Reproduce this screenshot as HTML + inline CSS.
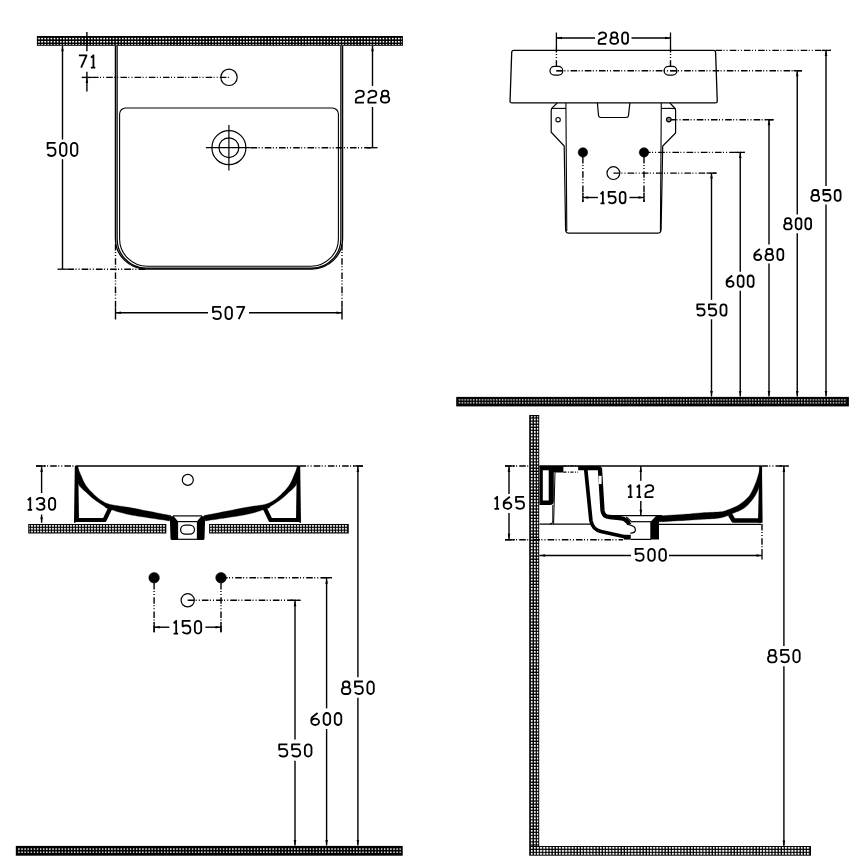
<!DOCTYPE html>
<html><head><meta charset="utf-8"><title>Washbasin dimension drawing</title><style>
html,body{margin:0;padding:0;background:#fff;font-family:"Liberation Sans",sans-serif;overflow:hidden;}
svg{display:block;}
</style></head><body>
<svg width="868" height="868" viewBox="0 0 868 868" role="img" aria-label="Washbasin technical drawing: 507 x 500, heights 850, 800, 680, 600, 550">
<defs>
<pattern id="hp1" patternUnits="userSpaceOnUse" x="38.175" y="37.775" width="3.103" height="3.15"><rect width="1.65" height="1.65" fill="#fff"/></pattern><pattern id="hp2" patternUnits="userSpaceOnUse" x="458.725" y="399.225" width="2.877" height="3.0"><rect width="1.35" height="1.35" fill="#fff"/></pattern><pattern id="hp3" patternUnits="userSpaceOnUse" x="160.100" y="524.900" width="3.0" height="2.9"><rect width="1.8" height="1.8" fill="#fff"/></pattern><pattern id="hp4" patternUnits="userSpaceOnUse" x="210.100" y="524.900" width="3.0" height="2.9"><rect width="1.8" height="1.8" fill="#fff"/></pattern><pattern id="hp5" patternUnits="userSpaceOnUse" x="18.200" y="848.400" width="3.1" height="3.15"><rect width="1.4" height="1.4" fill="#fff"/></pattern><pattern id="hp6" patternUnits="userSpaceOnUse" x="530.750" y="418.550" width="3.14" height="3.14"><rect width="1.9" height="1.9" fill="#fff"/></pattern><pattern id="hp7" patternUnits="userSpaceOnUse" x="530.750" y="846.950" width="3.14" height="3.1"><rect width="1.9" height="1.9" fill="#fff"/></pattern>
</defs>
<rect width="868" height="868" fill="#fff"/>
<rect x="36.9" y="36" width="366.00" height="9.80" fill="#000"/>
<rect x="38.10" y="37.20" width="363.80" height="7.60" fill="url(#hp1)"/>
<path d="M115.4,46 V238.7 A30.7,30.3 0 0 0 146.1,269.0 H311.9 A30.7,30.3 0 0 0 342.6,238.7 V46" fill="none" stroke="#000" stroke-width="1.3" />
<path d="M117.1,46 V238.7 A29,29.5 0 0 0 146.1,268.2 H311.9 A29,29.5 0 0 0 340.9,238.7 V46" fill="none" stroke="#000" stroke-width="1.3" />
<path d="M119.6,238.7 V114 A6,6 0 0 1 125.6,108 H332.4 A6,6 0 0 1 338.4,114 V238.7 A27.7,27.6 0 0 1 310.7,266.3 H147.3 A27.7,27.6 0 0 1 119.6,238.7" fill="none" stroke="#000" stroke-width="1.1" />
<circle cx="229" cy="77.3" r="8.2" fill="none" stroke="#000" stroke-width="1.2"/>
<line x1="92" y1="77.4" x2="229" y2="77.4" stroke="#000" stroke-width="1.4" stroke-linecap="butt" stroke-dasharray="6.6 1.4 1 2.1 1 2.1"/>
<circle cx="228.9" cy="147.7" r="17" fill="none" stroke="#000" stroke-width="1.2"/>
<circle cx="228.9" cy="147.7" r="9.9" fill="none" stroke="#000" stroke-width="1.2"/>
<line x1="228.9" y1="125.1" x2="228.9" y2="170.5" stroke="#000" stroke-width="1.2" stroke-linecap="butt"/>
<line x1="205.9" y1="147.7" x2="250.6" y2="147.7" stroke="#000" stroke-width="1.2" stroke-linecap="butt"/>
<line x1="250.6" y1="147.7" x2="372.5" y2="147.7" stroke="#000" stroke-width="1.4" stroke-linecap="butt" stroke-dasharray="6.6 1.4 1 2.1 1 2.1"/>
<line x1="367" y1="147.7" x2="377.5" y2="147.7" stroke="#000" stroke-width="1.3" stroke-linecap="butt"/>
<line x1="86.9" y1="31.9" x2="86.9" y2="51.2" stroke="#000" stroke-width="1.4" stroke-linecap="butt"/>
<line x1="86.9" y1="71.8" x2="86.9" y2="91.5" stroke="#000" stroke-width="1.4" stroke-linecap="butt"/>
<line x1="81.7" y1="77.4" x2="91.8" y2="77.4" stroke="#000" stroke-width="1.4" stroke-linecap="butt"/>
<polygon points="86.90,77.40 85.60,82.90 88.20,82.90" fill="#000"/>
<polygon points="86.90,45.60 85.60,40.10 88.20,40.10" fill="#000"/>
<g transform="translate(78.90,55.30) scale(0.9647,1.0082)" fill="none" stroke="#000" stroke-width="1.8" stroke-linejoin="round" stroke-linecap="butt"><path transform="translate(0.000,0)" d="M0,0 H7.9 L2.3,12.2" vector-effect="non-scaling-stroke"/><path transform="translate(12.400,0)" d="M0.1,2.4 L2.65,0 V12.2 M0,12.2 H4.6" vector-effect="non-scaling-stroke"/></g>
<line x1="62.5" y1="46" x2="62.5" y2="139.6" stroke="#000" stroke-width="1.4" stroke-linecap="butt"/>
<line x1="62.5" y1="159.2" x2="62.5" y2="269.2" stroke="#000" stroke-width="1.4" stroke-linecap="butt"/>
<polygon points="62.50,45.80 61.20,51.30 63.80,51.30" fill="#000"/>
<line x1="57.5" y1="269.2" x2="67.5" y2="269.2" stroke="#000" stroke-width="1.3" stroke-linecap="butt"/>
<line x1="67.5" y1="269.2" x2="146" y2="269.2" stroke="#000" stroke-width="1.4" stroke-linecap="butt" stroke-dasharray="6.6 1.4 1 2.1 1 2.1"/>
<g transform="translate(47.50,142.80) scale(0.9934,1.0820)" fill="none" stroke="#000" stroke-width="1.8" stroke-linejoin="round" stroke-linecap="butt"><path transform="translate(0.000,0)" d="M8.1,0 H0.1 V5.3 C1.2,4.7 2.6,4.5 4,4.5 C6.6,4.5 8.1,6 8.1,8.3 C8.1,10.7 6.5,12.2 4,12.2 C2.2,12.2 0.9,11.6 0,10.5" vector-effect="non-scaling-stroke"/><path transform="translate(12.600,0)" d="M0,3.5 A3.25,3.5 0 0 1 6.5,3.5 V8.7 A3.25,3.5 0 0 1 0,8.7 Z" vector-effect="non-scaling-stroke"/><path transform="translate(23.600,0)" d="M0,3.5 A3.25,3.5 0 0 1 6.5,3.5 V8.7 A3.25,3.5 0 0 1 0,8.7 Z" vector-effect="non-scaling-stroke"/></g>
<line x1="372.5" y1="46" x2="372.5" y2="86" stroke="#000" stroke-width="1.4" stroke-linecap="butt"/>
<line x1="372.5" y1="107" x2="372.5" y2="147.7" stroke="#000" stroke-width="1.4" stroke-linecap="butt"/>
<polygon points="372.50,45.80 371.20,51.30 373.80,51.30" fill="#000"/>
<g transform="translate(355.80,90.70) scale(0.9710,0.9754)" fill="none" stroke="#000" stroke-width="1.8" stroke-linejoin="round" stroke-linecap="butt"><path transform="translate(0.000,0)" d="M0,2.5 C0.6,0.9 2.2,0 4.2,0 C6.6,0 8.3,1.4 8.3,3.4 C8.3,5.5 6.7,6.2 4.2,6.6 C1.6,7 0,7.8 0,9.8 V12.2 H8.4" vector-effect="non-scaling-stroke"/><path transform="translate(12.900,0)" d="M0,2.5 C0.6,0.9 2.2,0 4.2,0 C6.6,0 8.3,1.4 8.3,3.4 C8.3,5.5 6.7,6.2 4.2,6.6 C1.6,7 0,7.8 0,9.8 V12.2 H8.4" vector-effect="non-scaling-stroke"/><path transform="translate(25.800,0)" d="M3.6,0 H5.1 A2.6,2.7 0 0 1 7.7,2.7 V3.0 A2.6,2.7 0 0 1 5.1,5.7 H3.6 A2.6,2.7 0 0 1 1.0,3.0 V2.7 A2.6,2.7 0 0 1 3.6,0 Z M3.1,5.7 H5.6 A3.1,3.1 0 0 1 8.7,8.8 V9.1 A3.1,3.1 0 0 1 5.6,12.2 H3.1 A3.1,3.1 0 0 1 0,9.1 V8.8 A3.1,3.1 0 0 1 3.1,5.7 Z" vector-effect="non-scaling-stroke"/></g>
<line x1="115.5" y1="244" x2="115.5" y2="308" stroke="#000" stroke-width="1.4" stroke-linecap="butt" stroke-dasharray="6.6 1.4 1 2.1 1 2.1"/>
<line x1="342" y1="244" x2="342" y2="308" stroke="#000" stroke-width="1.4" stroke-linecap="butt" stroke-dasharray="6.6 1.4 1 2.1 1 2.1"/>
<line x1="115.5" y1="307.5" x2="115.5" y2="319.5" stroke="#000" stroke-width="1.4" stroke-linecap="butt"/>
<line x1="342" y1="307.5" x2="342" y2="319.5" stroke="#000" stroke-width="1.4" stroke-linecap="butt"/>
<line x1="115.5" y1="312.75" x2="208" y2="312.75" stroke="#000" stroke-width="1.4" stroke-linecap="butt"/>
<line x1="249" y1="312.75" x2="342" y2="312.75" stroke="#000" stroke-width="1.4" stroke-linecap="butt"/>
<polygon points="115.50,312.75 121.00,311.45 121.00,314.05" fill="#000"/>
<polygon points="342.00,312.75 336.50,311.45 336.50,314.05" fill="#000"/>
<g transform="translate(212.90,306.90) scale(0.9968,1.0000)" fill="none" stroke="#000" stroke-width="1.8" stroke-linejoin="round" stroke-linecap="butt"><path transform="translate(0.000,0)" d="M8.1,0 H0.1 V5.3 C1.2,4.7 2.6,4.5 4,4.5 C6.6,4.5 8.1,6 8.1,8.3 C8.1,10.7 6.5,12.2 4,12.2 C2.2,12.2 0.9,11.6 0,10.5" vector-effect="non-scaling-stroke"/><path transform="translate(12.600,0)" d="M0,3.5 A3.25,3.5 0 0 1 6.5,3.5 V8.7 A3.25,3.5 0 0 1 0,8.7 Z" vector-effect="non-scaling-stroke"/><path transform="translate(23.600,0)" d="M0,0 H7.9 L2.3,12.2" vector-effect="non-scaling-stroke"/></g>
<path d="M513.75,50.4 H713.5 Q715.5,50.4 715.6,52.4 L717.25,100.9 Q717.3,102.9 715.3,102.9 H512 Q510,102.9 510.05,100.9 L511.7,52.4 Q511.8,50.4 513.75,50.4 Z" fill="none" stroke="#000" stroke-width="1.3" />
<rect x="550.0" y="66.3" width="12.8" height="8.8" rx="4.4" fill="none" stroke="#000" stroke-width="1.25"/>
<line x1="556.4" y1="70.7" x2="562.8" y2="70.7" stroke="#000" stroke-width="1.2" stroke-linecap="butt"/>
<line x1="556.4" y1="46" x2="556.4" y2="66.2" stroke="#000" stroke-width="1.4" stroke-linecap="butt" stroke-dasharray="6.6 1.4 1 2.1 1 2.1"/>
<line x1="556.4" y1="32.5" x2="556.4" y2="46" stroke="#000" stroke-width="1.3" stroke-linecap="butt"/>
<rect x="664.1" y="66.3" width="12.8" height="8.8" rx="4.4" fill="none" stroke="#000" stroke-width="1.25"/>
<line x1="670.5" y1="70.7" x2="676.9" y2="70.7" stroke="#000" stroke-width="1.2" stroke-linecap="butt"/>
<line x1="670.5" y1="46" x2="670.5" y2="66.2" stroke="#000" stroke-width="1.4" stroke-linecap="butt" stroke-dasharray="6.6 1.4 1 2.1 1 2.1"/>
<line x1="670.5" y1="32.5" x2="670.5" y2="46" stroke="#000" stroke-width="1.3" stroke-linecap="butt"/>
<line x1="556.4" y1="38" x2="595" y2="38" stroke="#000" stroke-width="1.4" stroke-linecap="butt"/>
<line x1="631.5" y1="38" x2="670.5" y2="38" stroke="#000" stroke-width="1.4" stroke-linecap="butt"/>
<polygon points="556.40,38.00 561.90,36.70 561.90,39.30" fill="#000"/>
<polygon points="670.50,38.00 665.00,36.70 665.00,39.30" fill="#000"/>
<g transform="translate(598.70,32.30) scale(0.8988,0.9426)" fill="none" stroke="#000" stroke-width="1.8" stroke-linejoin="round" stroke-linecap="butt"><path transform="translate(0.000,0)" d="M0,2.5 C0.6,0.9 2.2,0 4.2,0 C6.6,0 8.3,1.4 8.3,3.4 C8.3,5.5 6.7,6.2 4.2,6.6 C1.6,7 0,7.8 0,9.8 V12.2 H8.4" vector-effect="non-scaling-stroke"/><path transform="translate(12.900,0)" d="M3.6,0 H5.1 A2.6,2.7 0 0 1 7.7,2.7 V3.0 A2.6,2.7 0 0 1 5.1,5.7 H3.6 A2.6,2.7 0 0 1 1.0,3.0 V2.7 A2.6,2.7 0 0 1 3.6,0 Z M3.1,5.7 H5.6 A3.1,3.1 0 0 1 8.7,8.8 V9.1 A3.1,3.1 0 0 1 5.6,12.2 H3.1 A3.1,3.1 0 0 1 0,9.1 V8.8 A3.1,3.1 0 0 1 3.1,5.7 Z" vector-effect="non-scaling-stroke"/><path transform="translate(26.100,0)" d="M0,3.5 A3.25,3.5 0 0 1 6.5,3.5 V8.7 A3.25,3.5 0 0 1 0,8.7 Z" vector-effect="non-scaling-stroke"/></g>
<line x1="556.4" y1="70.7" x2="802" y2="70.7" stroke="#000" stroke-width="1.4" stroke-linecap="butt" stroke-dasharray="6.6 1.4 1 2.1 1 2.1"/>
<line x1="715.5" y1="50.4" x2="831" y2="50.4" stroke="#000" stroke-width="1.4" stroke-linecap="butt" stroke-dasharray="6.6 1.4 1 2.1 1 2.1"/>
<line x1="822" y1="50.4" x2="831" y2="50.4" stroke="#000" stroke-width="1.3" stroke-linecap="butt"/>
<line x1="793.5" y1="70.7" x2="802" y2="70.7" stroke="#000" stroke-width="1.3" stroke-linecap="butt"/>
<line x1="668.4" y1="119.7" x2="773.5" y2="119.7" stroke="#000" stroke-width="1.4" stroke-linecap="butt" stroke-dasharray="6.6 1.4 1 2.1 1 2.1"/>
<line x1="764.75" y1="119.7" x2="773.5" y2="119.7" stroke="#000" stroke-width="1.3" stroke-linecap="butt"/>
<line x1="644" y1="152.4" x2="744.75" y2="152.4" stroke="#000" stroke-width="1.4" stroke-linecap="butt" stroke-dasharray="6.6 1.4 1 2.1 1 2.1"/>
<line x1="735.5" y1="152.4" x2="744.75" y2="152.4" stroke="#000" stroke-width="1.3" stroke-linecap="butt"/>
<line x1="613.4" y1="173.1" x2="716.5" y2="173.1" stroke="#000" stroke-width="1.4" stroke-linecap="butt" stroke-dasharray="6.6 1.4 1 2.1 1 2.1"/>
<line x1="707.25" y1="173.1" x2="716.5" y2="173.1" stroke="#000" stroke-width="1.3" stroke-linecap="butt"/>
<line x1="826" y1="50.4" x2="826" y2="186" stroke="#000" stroke-width="1.4" stroke-linecap="butt"/>
<line x1="826" y1="204.6" x2="826" y2="396.5" stroke="#000" stroke-width="1.4" stroke-linecap="butt"/>
<polygon points="826.00,396.50 824.70,391.00 827.30,391.00" fill="#000"/>
<polygon points="826.00,50.40 824.70,55.90 827.30,55.90" fill="#000"/>
<g transform="translate(811.30,190.00) scale(0.9071,0.8934)" fill="none" stroke="#000" stroke-width="1.8" stroke-linejoin="round" stroke-linecap="butt"><path transform="translate(0.000,0)" d="M3.6,0 H5.1 A2.6,2.7 0 0 1 7.7,2.7 V3.0 A2.6,2.7 0 0 1 5.1,5.7 H3.6 A2.6,2.7 0 0 1 1.0,3.0 V2.7 A2.6,2.7 0 0 1 3.6,0 Z M3.1,5.7 H5.6 A3.1,3.1 0 0 1 8.7,8.8 V9.1 A3.1,3.1 0 0 1 5.6,12.2 H3.1 A3.1,3.1 0 0 1 0,9.1 V8.8 A3.1,3.1 0 0 1 3.1,5.7 Z" vector-effect="non-scaling-stroke"/><path transform="translate(13.200,0)" d="M8.1,0 H0.1 V5.3 C1.2,4.7 2.6,4.5 4,4.5 C6.6,4.5 8.1,6 8.1,8.3 C8.1,10.7 6.5,12.2 4,12.2 C2.2,12.2 0.9,11.6 0,10.5" vector-effect="non-scaling-stroke"/><path transform="translate(25.800,0)" d="M0,3.5 A3.25,3.5 0 0 1 6.5,3.5 V8.7 A3.25,3.5 0 0 1 0,8.7 Z" vector-effect="non-scaling-stroke"/></g>
<line x1="797.25" y1="70.7" x2="797.25" y2="214.6" stroke="#000" stroke-width="1.4" stroke-linecap="butt"/>
<line x1="797.25" y1="233.2" x2="797.25" y2="396.5" stroke="#000" stroke-width="1.4" stroke-linecap="butt"/>
<polygon points="797.25,396.50 795.95,391.00 798.55,391.00" fill="#000"/>
<polygon points="797.25,70.70 795.95,76.20 798.55,76.20" fill="#000"/>
<g transform="translate(784.10,218.20) scale(0.8795,0.9180)" fill="none" stroke="#000" stroke-width="1.8" stroke-linejoin="round" stroke-linecap="butt"><path transform="translate(0.000,0)" d="M3.6,0 H5.1 A2.6,2.7 0 0 1 7.7,2.7 V3.0 A2.6,2.7 0 0 1 5.1,5.7 H3.6 A2.6,2.7 0 0 1 1.0,3.0 V2.7 A2.6,2.7 0 0 1 3.6,0 Z M3.1,5.7 H5.6 A3.1,3.1 0 0 1 8.7,8.8 V9.1 A3.1,3.1 0 0 1 5.6,12.2 H3.1 A3.1,3.1 0 0 1 0,9.1 V8.8 A3.1,3.1 0 0 1 3.1,5.7 Z" vector-effect="non-scaling-stroke"/><path transform="translate(13.200,0)" d="M0,3.5 A3.25,3.5 0 0 1 6.5,3.5 V8.7 A3.25,3.5 0 0 1 0,8.7 Z" vector-effect="non-scaling-stroke"/><path transform="translate(24.200,0)" d="M0,3.5 A3.25,3.5 0 0 1 6.5,3.5 V8.7 A3.25,3.5 0 0 1 0,8.7 Z" vector-effect="non-scaling-stroke"/></g>
<line x1="769" y1="119.7" x2="769" y2="244.6" stroke="#000" stroke-width="1.4" stroke-linecap="butt"/>
<line x1="769" y1="263.6" x2="769" y2="396.5" stroke="#000" stroke-width="1.4" stroke-linecap="butt"/>
<polygon points="769.00,396.50 767.70,391.00 770.30,391.00" fill="#000"/>
<polygon points="769.00,119.70 767.70,125.20 770.30,125.20" fill="#000"/>
<g transform="translate(754.30,249.00) scale(0.9091,0.9098)" fill="none" stroke="#000" stroke-width="1.8" stroke-linejoin="round" stroke-linecap="butt"><path transform="translate(0.000,0)" d="M6.2,0 L0.9,4.3 Q0,5.1 0,6.5 V9 A3.85,3.2 0 0 0 7.7,9 A3.85,3.2 0 0 0 0,9" vector-effect="non-scaling-stroke"/><path transform="translate(12.200,0)" d="M3.6,0 H5.1 A2.6,2.7 0 0 1 7.7,2.7 V3.0 A2.6,2.7 0 0 1 5.1,5.7 H3.6 A2.6,2.7 0 0 1 1.0,3.0 V2.7 A2.6,2.7 0 0 1 3.6,0 Z M3.1,5.7 H5.6 A3.1,3.1 0 0 1 8.7,8.8 V9.1 A3.1,3.1 0 0 1 5.6,12.2 H3.1 A3.1,3.1 0 0 1 0,9.1 V8.8 A3.1,3.1 0 0 1 3.1,5.7 Z" vector-effect="non-scaling-stroke"/><path transform="translate(25.400,0)" d="M0,3.5 A3.25,3.5 0 0 1 6.5,3.5 V8.7 A3.25,3.5 0 0 1 0,8.7 Z" vector-effect="non-scaling-stroke"/></g>
<line x1="740.25" y1="152.4" x2="740.25" y2="271.7" stroke="#000" stroke-width="1.4" stroke-linecap="butt"/>
<line x1="740.25" y1="290.7" x2="740.25" y2="396.5" stroke="#000" stroke-width="1.4" stroke-linecap="butt"/>
<polygon points="740.25,396.50 738.95,391.00 741.55,391.00" fill="#000"/>
<polygon points="740.25,152.40 738.95,157.90 741.55,157.90" fill="#000"/>
<g transform="translate(726.60,275.50) scale(0.9091,0.9344)" fill="none" stroke="#000" stroke-width="1.8" stroke-linejoin="round" stroke-linecap="butt"><path transform="translate(0.000,0)" d="M6.2,0 L0.9,4.3 Q0,5.1 0,6.5 V9 A3.85,3.2 0 0 0 7.7,9 A3.85,3.2 0 0 0 0,9" vector-effect="non-scaling-stroke"/><path transform="translate(12.200,0)" d="M0,3.5 A3.25,3.5 0 0 1 6.5,3.5 V8.7 A3.25,3.5 0 0 1 0,8.7 Z" vector-effect="non-scaling-stroke"/><path transform="translate(23.200,0)" d="M0,3.5 A3.25,3.5 0 0 1 6.5,3.5 V8.7 A3.25,3.5 0 0 1 0,8.7 Z" vector-effect="non-scaling-stroke"/></g>
<line x1="711.5" y1="173.1" x2="711.5" y2="299.9" stroke="#000" stroke-width="1.4" stroke-linecap="butt"/>
<line x1="711.5" y1="319.3" x2="711.5" y2="396.5" stroke="#000" stroke-width="1.4" stroke-linecap="butt"/>
<polygon points="711.50,396.50 710.20,391.00 712.80,391.00" fill="#000"/>
<polygon points="711.50,173.10 710.20,178.60 712.80,178.60" fill="#000"/>
<g transform="translate(697.20,304.30) scale(0.9243,0.9344)" fill="none" stroke="#000" stroke-width="1.8" stroke-linejoin="round" stroke-linecap="butt"><path transform="translate(0.000,0)" d="M8.1,0 H0.1 V5.3 C1.2,4.7 2.6,4.5 4,4.5 C6.6,4.5 8.1,6 8.1,8.3 C8.1,10.7 6.5,12.2 4,12.2 C2.2,12.2 0.9,11.6 0,10.5" vector-effect="non-scaling-stroke"/><path transform="translate(12.600,0)" d="M8.1,0 H0.1 V5.3 C1.2,4.7 2.6,4.5 4,4.5 C6.6,4.5 8.1,6 8.1,8.3 C8.1,10.7 6.5,12.2 4,12.2 C2.2,12.2 0.9,11.6 0,10.5" vector-effect="non-scaling-stroke"/><path transform="translate(25.200,0)" d="M0,3.5 A3.25,3.5 0 0 1 6.5,3.5 V8.7 A3.25,3.5 0 0 1 0,8.7 Z" vector-effect="non-scaling-stroke"/></g>
<path d="M557.3,102.9 L552.6,107.5 Q551.2,108.8 551.2,110.5 L551.2,132.2 L564.2,146 L565.6,229.5 Q565.7,233.2 569,233.2 H657.6 Q661,233.2 661.1,229.5 L662.7,146 L675.6,133 L675.6,110.5 Q675.6,108.8 674.2,107.5 L669.8,102.9" fill="none" stroke="#000" stroke-width="1.2" />
<path d="M565.9,102.9 L566.8,231 M661.3,102.9 L660.4,231" fill="none" stroke="#000" stroke-width="1.1" />
<line x1="551.2" y1="108.4" x2="565.9" y2="108.4" stroke="#000" stroke-width="1.1" stroke-linecap="butt"/>
<line x1="661.3" y1="108.4" x2="675.6" y2="108.4" stroke="#000" stroke-width="1.1" stroke-linecap="butt"/>
<circle cx="558.1" cy="119.7" r="2.2" fill="none" stroke="#000" stroke-width="1.1"/>
<circle cx="668.8" cy="119.6" r="2.3" fill="#888" stroke="#000" stroke-width="1.1"/>
<path d="M597.4,102.9 L598.5,115.5 Q598.8,117.5 600.8,117.5 H626.3 Q628.3,117.5 628.5,115.5 L629.9,102.9" fill="none" stroke="#000" stroke-width="1.2" />
<circle cx="582.9" cy="152.4" r="4.75" fill="#000" stroke="#000" stroke-width="0.5"/>
<circle cx="644" cy="152.4" r="4.75" fill="#000" stroke="#000" stroke-width="0.5"/>
<circle cx="613.4" cy="173.1" r="6.4" fill="none" stroke="#000" stroke-width="1.2"/>
<line x1="582.9" y1="157" x2="582.9" y2="202.1" stroke="#000" stroke-width="1.4" stroke-linecap="butt" stroke-dasharray="6.6 1.4 1 2.1 1 2.1"/>
<line x1="644" y1="157" x2="644" y2="202.1" stroke="#000" stroke-width="1.4" stroke-linecap="butt" stroke-dasharray="6.6 1.4 1 2.1 1 2.1"/>
<line x1="582.9" y1="192.6" x2="582.9" y2="202.1" stroke="#000" stroke-width="1.3" stroke-linecap="butt"/>
<line x1="644" y1="192.6" x2="644" y2="202.1" stroke="#000" stroke-width="1.3" stroke-linecap="butt"/>
<line x1="582.9" y1="197.5" x2="597.9" y2="197.5" stroke="#000" stroke-width="1.4" stroke-linecap="butt"/>
<line x1="629.5" y1="197.5" x2="644" y2="197.5" stroke="#000" stroke-width="1.4" stroke-linecap="butt"/>
<polygon points="582.90,197.50 588.40,196.20 588.40,198.80" fill="#000"/>
<polygon points="644.00,197.50 638.50,196.20 638.50,198.80" fill="#000"/>
<g transform="translate(600.50,191.80) scale(0.8865,0.9426)" fill="none" stroke="#000" stroke-width="1.8" stroke-linejoin="round" stroke-linecap="butt"><path transform="translate(0.000,0)" d="M0.1,2.4 L2.65,0 V12.2 M0,12.2 H4.6" vector-effect="non-scaling-stroke"/><path transform="translate(9.100,0)" d="M8.1,0 H0.1 V5.3 C1.2,4.7 2.6,4.5 4,4.5 C6.6,4.5 8.1,6 8.1,8.3 C8.1,10.7 6.5,12.2 4,12.2 C2.2,12.2 0.9,11.6 0,10.5" vector-effect="non-scaling-stroke"/><path transform="translate(21.700,0)" d="M0,3.5 A3.25,3.5 0 0 1 6.5,3.5 V8.7 A3.25,3.5 0 0 1 0,8.7 Z" vector-effect="non-scaling-stroke"/></g>
<rect x="456.2" y="396.9" width="392.70" height="9.50" fill="#000"/>
<rect x="458.20" y="398.80" width="388.50" height="5.40" fill="url(#hp2)"/>
<line x1="76" y1="466" x2="299.5" y2="466" stroke="#000" stroke-width="1.3" stroke-linecap="butt"/>
<line x1="36" y1="466" x2="76" y2="466" stroke="#000" stroke-width="1.4" stroke-linecap="butt" stroke-dasharray="6.6 1.4 1 2.1 1 2.1"/>
<line x1="36" y1="466" x2="46" y2="466" stroke="#000" stroke-width="1.3" stroke-linecap="butt"/>
<line x1="299.5" y1="466" x2="363" y2="466" stroke="#000" stroke-width="1.4" stroke-linecap="butt" stroke-dasharray="6.6 1.4 1 2.1 1 2.1"/>
<line x1="353" y1="466" x2="363" y2="466" stroke="#000" stroke-width="1.3" stroke-linecap="butt"/>
<line x1="41.6" y1="466" x2="41.6" y2="493" stroke="#000" stroke-width="1.4" stroke-linecap="butt"/>
<line x1="41.6" y1="514.5" x2="41.6" y2="522.75" stroke="#000" stroke-width="1.4" stroke-linecap="butt"/>
<polygon points="41.60,466.50 40.30,472.00 42.90,472.00" fill="#000"/>
<polygon points="41.60,522.75 40.30,517.25 42.90,517.25" fill="#000"/>
<g transform="translate(27.70,497.80) scale(0.9649,0.9836)" fill="none" stroke="#000" stroke-width="1.8" stroke-linejoin="round" stroke-linecap="butt"><path transform="translate(0.000,0)" d="M0.1,2.4 L2.65,0 V12.2 M0,12.2 H4.6" vector-effect="non-scaling-stroke"/><path transform="translate(9.100,0)" d="M0,2.3 C0.6,0.8 2.2,0 4.1,0 C6.5,0 8.1,1.3 8.1,3.1 C8.1,5 6.5,6.1 3.4,6.1 C6.7,6.1 8.4,7.4 8.4,9.1 C8.4,11 6.6,12.2 4.1,12.2 C2.1,12.2 0.6,11.4 0,10.1" vector-effect="non-scaling-stroke"/><path transform="translate(22.000,0)" d="M0,3.5 A3.25,3.5 0 0 1 6.5,3.5 V8.7 A3.25,3.5 0 0 1 0,8.7 Z" vector-effect="non-scaling-stroke"/></g>
<rect x="28.25" y="524" width="138.05" height="9.50" fill="#000"/>
<rect x="29.25" y="525.00" width="136.05" height="7.60" fill="url(#hp3)"/>
<rect x="209.1" y="524" width="139.65" height="9.50" fill="#000"/>
<rect x="210.10" y="525.00" width="137.65" height="7.60" fill="url(#hp4)"/>
<polygon points="74.80,466 78.20,466 79.00,521 74.00,523" fill="#000"/>
<path d="M75,520 H104.5 L110.3,508" fill="none" stroke="#000" stroke-width="4.2" stroke-linejoin="round"/>
<path d="M77.30,466.00 C77.97,467.68 79.83,472.80 81.30,476.10 C82.77,479.40 83.95,482.70 86.10,485.80 C88.25,488.90 91.50,492.15 94.20,494.70 C96.90,497.25 99.62,499.48 102.30,501.10 C104.98,502.72 105.68,503.32 110.30,504.40 C114.92,505.48 119.88,505.73 130.00,507.60 C140.12,509.47 164.17,514.27 171.00,515.60 L169.50,520.90 C162.92,519.88 140.25,516.85 130.00,514.80 C119.75,512.75 112.35,510.07 108.00,508.60 C103.65,507.13 106.20,507.52 103.90,506.00 C101.60,504.48 97.17,501.78 94.20,499.50 C91.23,497.22 88.78,494.98 86.10,492.30 C83.42,489.62 79.52,487.12 78.10,483.40 C76.68,479.68 77.68,472.23 77.60,470.00 Z" fill="#000" stroke="#000" stroke-width="0.3"/>
<polygon points="169.80,516.5 173.50,515.9 178.10,521.6 178.10,539.9 171.50,539.9 170.50,538.9" fill="#000"/>
<polygon points="300.20,466 296.80,466 296.00,521 301.00,523" fill="#000"/>
<path d="M300.0,520 H270.5 L264.7,508" fill="none" stroke="#000" stroke-width="4.2" stroke-linejoin="round"/>
<path d="M297.70,466.00 C297.03,467.68 295.17,472.80 293.70,476.10 C292.23,479.40 291.05,482.70 288.90,485.80 C286.75,488.90 283.50,492.15 280.80,494.70 C278.10,497.25 275.38,499.48 272.70,501.10 C270.02,502.72 269.32,503.32 264.70,504.40 C260.08,505.48 255.12,505.73 245.00,507.60 C234.88,509.47 210.83,514.27 204.00,515.60 L205.50,520.90 C212.08,519.88 234.75,516.85 245.00,514.80 C255.25,512.75 262.65,510.07 267.00,508.60 C271.35,507.13 268.80,507.52 271.10,506.00 C273.40,504.48 277.83,501.78 280.80,499.50 C283.77,497.22 286.22,494.98 288.90,492.30 C291.58,489.62 295.48,487.12 296.90,483.40 C298.32,479.68 297.32,472.23 297.40,470.00 Z" fill="#000" stroke="#000" stroke-width="0.3"/>
<polygon points="205.20,516.5 201.50,515.9 196.90,521.6 196.90,539.9 203.50,539.9 204.50,538.9" fill="#000"/>
<line x1="173" y1="515.9" x2="202" y2="515.9" stroke="#000" stroke-width="1.2" stroke-linecap="butt"/>
<line x1="178.1" y1="521.6" x2="197" y2="521.6" stroke="#000" stroke-width="1.2" stroke-linecap="butt"/>
<line x1="178" y1="539.3" x2="197" y2="539.3" stroke="#000" stroke-width="1.2" stroke-linecap="butt"/>
<rect x="180.6" y="525" width="13.9" height="9.2" rx="4.6" fill="none" stroke="#000" stroke-width="1.25"/>
<circle cx="187.8" cy="479.9" r="5.5" fill="none" stroke="#000" stroke-width="1.2"/>
<circle cx="154.1" cy="577.7" r="5.3" fill="#000" stroke="#000" stroke-width="0.5"/>
<circle cx="221" cy="577.7" r="5.3" fill="#000" stroke="#000" stroke-width="0.5"/>
<circle cx="187.7" cy="600.3" r="6.6" fill="none" stroke="#000" stroke-width="1.2"/>
<line x1="154.1" y1="583" x2="154.1" y2="632.2" stroke="#000" stroke-width="1.4" stroke-linecap="butt" stroke-dasharray="6.6 1.4 1 2.1 1 2.1"/>
<line x1="221" y1="583" x2="221" y2="632.2" stroke="#000" stroke-width="1.4" stroke-linecap="butt" stroke-dasharray="6.6 1.4 1 2.1 1 2.1"/>
<line x1="154.1" y1="622" x2="154.1" y2="632.2" stroke="#000" stroke-width="1.3" stroke-linecap="butt"/>
<line x1="221" y1="622" x2="221" y2="632.2" stroke="#000" stroke-width="1.3" stroke-linecap="butt"/>
<line x1="154.1" y1="627.2" x2="169.3" y2="627.2" stroke="#000" stroke-width="1.4" stroke-linecap="butt"/>
<line x1="205.4" y1="627.2" x2="221" y2="627.2" stroke="#000" stroke-width="1.4" stroke-linecap="butt"/>
<polygon points="154.10,627.20 159.60,625.90 159.60,628.50" fill="#000"/>
<polygon points="221.00,627.20 215.50,625.90 215.50,628.50" fill="#000"/>
<g transform="translate(173.60,620.80) scale(0.9787,1.0492)" fill="none" stroke="#000" stroke-width="1.8" stroke-linejoin="round" stroke-linecap="butt"><path transform="translate(0.000,0)" d="M0.1,2.4 L2.65,0 V12.2 M0,12.2 H4.6" vector-effect="non-scaling-stroke"/><path transform="translate(9.100,0)" d="M8.1,0 H0.1 V5.3 C1.2,4.7 2.6,4.5 4,4.5 C6.6,4.5 8.1,6 8.1,8.3 C8.1,10.7 6.5,12.2 4,12.2 C2.2,12.2 0.9,11.6 0,10.5" vector-effect="non-scaling-stroke"/><path transform="translate(21.700,0)" d="M0,3.5 A3.25,3.5 0 0 1 6.5,3.5 V8.7 A3.25,3.5 0 0 1 0,8.7 Z" vector-effect="non-scaling-stroke"/></g>
<line x1="221" y1="577.7" x2="332" y2="577.7" stroke="#000" stroke-width="1.4" stroke-linecap="butt" stroke-dasharray="6.6 1.4 1 2.1 1 2.1"/>
<line x1="321.5" y1="577.7" x2="332" y2="577.7" stroke="#000" stroke-width="1.3" stroke-linecap="butt"/>
<line x1="187.7" y1="600.3" x2="300.75" y2="600.3" stroke="#000" stroke-width="1.4" stroke-linecap="butt" stroke-dasharray="6.6 1.4 1 2.1 1 2.1"/>
<line x1="290" y1="600.3" x2="300.75" y2="600.3" stroke="#000" stroke-width="1.3" stroke-linecap="butt"/>
<line x1="357.9" y1="466" x2="357.9" y2="677.3" stroke="#000" stroke-width="1.4" stroke-linecap="butt"/>
<line x1="357.9" y1="697.8" x2="357.9" y2="845.5" stroke="#000" stroke-width="1.4" stroke-linecap="butt"/>
<polygon points="357.90,845.50 356.60,840.00 359.20,840.00" fill="#000"/>
<polygon points="357.90,466.50 356.60,472.00 359.20,472.00" fill="#000"/>
<g transform="translate(341.80,681.50) scale(0.9907,1.0246)" fill="none" stroke="#000" stroke-width="1.8" stroke-linejoin="round" stroke-linecap="butt"><path transform="translate(0.000,0)" d="M3.6,0 H5.1 A2.6,2.7 0 0 1 7.7,2.7 V3.0 A2.6,2.7 0 0 1 5.1,5.7 H3.6 A2.6,2.7 0 0 1 1.0,3.0 V2.7 A2.6,2.7 0 0 1 3.6,0 Z M3.1,5.7 H5.6 A3.1,3.1 0 0 1 8.7,8.8 V9.1 A3.1,3.1 0 0 1 5.6,12.2 H3.1 A3.1,3.1 0 0 1 0,9.1 V8.8 A3.1,3.1 0 0 1 3.1,5.7 Z" vector-effect="non-scaling-stroke"/><path transform="translate(13.200,0)" d="M8.1,0 H0.1 V5.3 C1.2,4.7 2.6,4.5 4,4.5 C6.6,4.5 8.1,6 8.1,8.3 C8.1,10.7 6.5,12.2 4,12.2 C2.2,12.2 0.9,11.6 0,10.5" vector-effect="non-scaling-stroke"/><path transform="translate(25.800,0)" d="M0,3.5 A3.25,3.5 0 0 1 6.5,3.5 V8.7 A3.25,3.5 0 0 1 0,8.7 Z" vector-effect="non-scaling-stroke"/></g>
<line x1="326.6" y1="577.7" x2="326.6" y2="708.4" stroke="#000" stroke-width="1.4" stroke-linecap="butt"/>
<line x1="326.6" y1="729" x2="326.6" y2="845.5" stroke="#000" stroke-width="1.4" stroke-linecap="butt"/>
<polygon points="326.60,845.50 325.30,840.00 327.90,840.00" fill="#000"/>
<polygon points="326.60,578.20 325.30,583.70 327.90,583.70" fill="#000"/>
<g transform="translate(311.30,713.00) scale(1.0101,0.9836)" fill="none" stroke="#000" stroke-width="1.8" stroke-linejoin="round" stroke-linecap="butt"><path transform="translate(0.000,0)" d="M6.2,0 L0.9,4.3 Q0,5.1 0,6.5 V9 A3.85,3.2 0 0 0 7.7,9 A3.85,3.2 0 0 0 0,9" vector-effect="non-scaling-stroke"/><path transform="translate(12.200,0)" d="M0,3.5 A3.25,3.5 0 0 1 6.5,3.5 V8.7 A3.25,3.5 0 0 1 0,8.7 Z" vector-effect="non-scaling-stroke"/><path transform="translate(23.200,0)" d="M0,3.5 A3.25,3.5 0 0 1 6.5,3.5 V8.7 A3.25,3.5 0 0 1 0,8.7 Z" vector-effect="non-scaling-stroke"/></g>
<line x1="295" y1="600.3" x2="295" y2="739.6" stroke="#000" stroke-width="1.4" stroke-linecap="butt"/>
<line x1="295" y1="760.8" x2="295" y2="845.5" stroke="#000" stroke-width="1.4" stroke-linecap="butt"/>
<polygon points="295.00,845.50 293.70,840.00 296.30,840.00" fill="#000"/>
<polygon points="295.00,600.80 293.70,606.30 296.30,606.30" fill="#000"/>
<g transform="translate(279.10,744.40) scale(1.0221,0.9918)" fill="none" stroke="#000" stroke-width="1.8" stroke-linejoin="round" stroke-linecap="butt"><path transform="translate(0.000,0)" d="M8.1,0 H0.1 V5.3 C1.2,4.7 2.6,4.5 4,4.5 C6.6,4.5 8.1,6 8.1,8.3 C8.1,10.7 6.5,12.2 4,12.2 C2.2,12.2 0.9,11.6 0,10.5" vector-effect="non-scaling-stroke"/><path transform="translate(12.600,0)" d="M8.1,0 H0.1 V5.3 C1.2,4.7 2.6,4.5 4,4.5 C6.6,4.5 8.1,6 8.1,8.3 C8.1,10.7 6.5,12.2 4,12.2 C2.2,12.2 0.9,11.6 0,10.5" vector-effect="non-scaling-stroke"/><path transform="translate(25.200,0)" d="M0,3.5 A3.25,3.5 0 0 1 6.5,3.5 V8.7 A3.25,3.5 0 0 1 0,8.7 Z" vector-effect="non-scaling-stroke"/></g>
<rect x="15.8" y="845.9" width="386.90" height="9.80" fill="#000"/>
<rect x="17.80" y="847.90" width="383.10" height="5.60" fill="url(#hp5)"/>
<rect x="529.2" y="415" width="10.00" height="431.20" fill="#000"/>
<rect x="530.30" y="416.20" width="8.00" height="430.00" fill="url(#hp6)"/>
<rect x="529.2" y="846" width="281.80" height="9.70" fill="#000"/>
<rect x="530.30" y="846.50" width="279.70" height="8.30" fill="url(#hp7)"/>
<line x1="539.4" y1="466" x2="761.3" y2="466" stroke="#000" stroke-width="1.3" stroke-linecap="butt"/>
<line x1="505" y1="466" x2="529" y2="466" stroke="#000" stroke-width="1.4" stroke-linecap="butt" stroke-dasharray="6.6 1.4 1 2.1 1 2.1"/>
<line x1="505" y1="466" x2="515" y2="466" stroke="#000" stroke-width="1.3" stroke-linecap="butt"/>
<line x1="505" y1="539.8" x2="623" y2="539.8" stroke="#000" stroke-width="1.4" stroke-linecap="butt" stroke-dasharray="6.6 1.4 1 2.1 1 2.1"/>
<line x1="505" y1="539.8" x2="515" y2="539.8" stroke="#000" stroke-width="1.3" stroke-linecap="butt"/>
<line x1="509" y1="466" x2="509" y2="494" stroke="#000" stroke-width="1.4" stroke-linecap="butt"/>
<line x1="509" y1="513" x2="509" y2="539.8" stroke="#000" stroke-width="1.4" stroke-linecap="butt"/>
<polygon points="509.00,466.50 507.70,472.00 510.30,472.00" fill="#000"/>
<polygon points="509.00,539.30 507.70,533.80 510.30,533.80" fill="#000"/>
<g transform="translate(494.50,496.80) scale(1.0068,0.9836)" fill="none" stroke="#000" stroke-width="1.8" stroke-linejoin="round" stroke-linecap="butt"><path transform="translate(0.000,0)" d="M0.1,2.4 L2.65,0 V12.2 M0,12.2 H4.6" vector-effect="non-scaling-stroke"/><path transform="translate(9.100,0)" d="M6.2,0 L0.9,4.3 Q0,5.1 0,6.5 V9 A3.85,3.2 0 0 0 7.7,9 A3.85,3.2 0 0 0 0,9" vector-effect="non-scaling-stroke"/><path transform="translate(21.300,0)" d="M8.1,0 H0.1 V5.3 C1.2,4.7 2.6,4.5 4,4.5 C6.6,4.5 8.1,6 8.1,8.3 C8.1,10.7 6.5,12.2 4,12.2 C2.2,12.2 0.9,11.6 0,10.5" vector-effect="non-scaling-stroke"/></g>
<path d="M539.4,465.9 H563.4 V472.5 H553.8 V501 Q553.8,505 549.8,505 H539.4 Z M542.8,470.3 V500.6 H548.7 V470.3 Z" fill="#000" stroke="none" stroke-width="0" fill-rule="evenodd"/>
<path d="M552.8,505 V521 Q552.8,524.2 549.5,524.2" fill="none" stroke="#000" stroke-width="1.0" />
<line x1="555" y1="472.5" x2="553.6" y2="524.2" stroke="#000" stroke-width="1.0" stroke-linecap="butt"/>
<line x1="539.4" y1="524.2" x2="591" y2="524.2" stroke="#000" stroke-width="1.2" stroke-linecap="butt"/>
<line x1="563.4" y1="466" x2="578.1" y2="466" stroke="#000" stroke-width="1.2" stroke-linecap="butt" stroke-dasharray="3 1.5 1 1.5"/>
<line x1="563.4" y1="472.2" x2="578.1" y2="472.2" stroke="#000" stroke-width="1.2" stroke-linecap="butt" stroke-dasharray="3 1.5 1 1.5"/>
<path d="M578.2,465.9 H598.5 Q601.9,465.9 601.9,469.5 V470.3 H578.2 Z" fill="#000" stroke="none" stroke-width="0" />
<path d="M585.6,468 L590.9,520.5 Q592.5,529.5 601,531.5 L627,537.2" fill="none" stroke="#000" stroke-width="3.7" stroke-linejoin="round"/>
<rect x="623.8" y="534.8" width="7" height="4.8" fill="#000"/>
<path d="M599.9,468 L602.5,510.5 Q603.3,516.8 609.5,517 L621.5,518.3 Q627,519.3 629.3,524.5" fill="none" stroke="#000" stroke-width="4.3" stroke-linejoin="round"/>
<rect x="598.6" y="475.8" width="3" height="8.3" fill="#fff"/>
<path d="M628.5,524.7 Q635.8,526 635.4,530.2 Q635,533.3 630.3,533.2" fill="none" stroke="#000" stroke-width="1.2" />
<line x1="612" y1="515.7" x2="662" y2="515.7" stroke="#000" stroke-width="1.2" stroke-linecap="butt"/>
<line x1="626.3" y1="517" x2="631.4" y2="521.7" stroke="#000" stroke-width="1.1" stroke-linecap="butt"/>
<line x1="631" y1="521.7" x2="651" y2="521.7" stroke="#000" stroke-width="1.2" stroke-linecap="butt"/>
<line x1="631" y1="539.4" x2="651" y2="539.4" stroke="#000" stroke-width="1.2" stroke-linecap="butt"/>
<polygon points="650.3,522 656,516.1 659,516.1 659,539.6 650.3,539.6" fill="#000"/>
<path d="M656.00,516.10 C660.83,515.78 677.67,514.73 685.00,514.20 C692.33,513.67 694.17,513.30 700.00,512.90 C705.83,512.50 715.33,512.33 720.00,511.80 C724.67,511.27 725.17,510.67 728.00,509.70 C730.83,508.73 734.17,507.58 737.00,506.00 C739.83,504.42 742.75,502.20 745.00,500.20 C747.25,498.20 748.58,497.25 750.50,494.00 C752.42,490.75 754.82,485.37 756.50,480.70 C758.18,476.03 759.92,468.45 760.60,466.00 L762.00,468.00 C761.58,470.83 760.67,480.33 759.50,485.00 C758.33,489.67 757.42,492.23 755.00,496.00 C752.58,499.77 748.83,504.63 745.00,507.60 C741.17,510.57 735.00,512.40 732.00,513.80 C729.00,515.20 729.33,515.25 727.00,516.00 C724.67,516.75 722.50,517.72 718.00,518.30 C713.50,518.88 705.50,519.15 700.00,519.50 C694.50,519.85 691.83,520.02 685.00,520.40 C678.17,520.78 663.33,521.57 659.00,521.80 Z" fill="#000" stroke="#000" stroke-width="0.3"/>
<polygon points="759.3,466 762,466 762.6,522.8 758,522.8" fill="#000"/>
<path d="M761,520.5 H733.5 L730,514.5" fill="none" stroke="#000" stroke-width="4.6" stroke-linejoin="round"/>
<line x1="659" y1="524.4" x2="761.3" y2="524.4" stroke="#000" stroke-width="1.15" stroke-linecap="butt"/>
<line x1="640.8" y1="466" x2="640.8" y2="480.7" stroke="#000" stroke-width="1.4" stroke-linecap="butt"/>
<line x1="640.8" y1="501.1" x2="640.8" y2="515.6" stroke="#000" stroke-width="1.4" stroke-linecap="butt"/>
<polygon points="640.80,466.50 639.50,472.00 642.10,472.00" fill="#000"/>
<polygon points="640.80,515.20 639.50,509.70 642.10,509.70" fill="#000"/>
<g transform="translate(628.00,485.10) scale(0.9549,0.9836)" fill="none" stroke="#000" stroke-width="1.8" stroke-linejoin="round" stroke-linecap="butt"><path transform="translate(0.000,0)" d="M0.1,2.4 L2.65,0 V12.2 M0,12.2 H4.6" vector-effect="non-scaling-stroke"/><path transform="translate(9.100,0)" d="M0.1,2.4 L2.65,0 V12.2 M0,12.2 H4.6" vector-effect="non-scaling-stroke"/><path transform="translate(18.200,0)" d="M0,2.5 C0.6,0.9 2.2,0 4.2,0 C6.6,0 8.3,1.4 8.3,3.4 C8.3,5.5 6.7,6.2 4.2,6.6 C1.6,7 0,7.8 0,9.8 V12.2 H8.4" vector-effect="non-scaling-stroke"/></g>
<line x1="539.4" y1="555.5" x2="631" y2="555.5" stroke="#000" stroke-width="1.4" stroke-linecap="butt"/>
<line x1="669" y1="555.5" x2="762" y2="555.5" stroke="#000" stroke-width="1.4" stroke-linecap="butt"/>
<polygon points="539.60,555.50 545.10,554.20 545.10,556.80" fill="#000"/>
<polygon points="762.00,555.50 756.50,554.20 756.50,556.80" fill="#000"/>
<line x1="762" y1="549" x2="762" y2="559.5" stroke="#000" stroke-width="1.3" stroke-linecap="butt"/>
<line x1="762" y1="524" x2="762" y2="549" stroke="#000" stroke-width="1.4" stroke-linecap="butt" stroke-dasharray="6.6 1.4 1 2.1 1 2.1"/>
<g transform="translate(635.50,548.90) scale(1.0100,0.9795)" fill="none" stroke="#000" stroke-width="1.8" stroke-linejoin="round" stroke-linecap="butt"><path transform="translate(0.000,0)" d="M8.1,0 H0.1 V5.3 C1.2,4.7 2.6,4.5 4,4.5 C6.6,4.5 8.1,6 8.1,8.3 C8.1,10.7 6.5,12.2 4,12.2 C2.2,12.2 0.9,11.6 0,10.5" vector-effect="non-scaling-stroke"/><path transform="translate(12.600,0)" d="M0,3.5 A3.25,3.5 0 0 1 6.5,3.5 V8.7 A3.25,3.5 0 0 1 0,8.7 Z" vector-effect="non-scaling-stroke"/><path transform="translate(23.600,0)" d="M0,3.5 A3.25,3.5 0 0 1 6.5,3.5 V8.7 A3.25,3.5 0 0 1 0,8.7 Z" vector-effect="non-scaling-stroke"/></g>
<line x1="761.3" y1="466" x2="789" y2="466" stroke="#000" stroke-width="1.4" stroke-linecap="butt" stroke-dasharray="6.6 1.4 1 2.1 1 2.1"/>
<line x1="779.7" y1="466" x2="789" y2="466" stroke="#000" stroke-width="1.3" stroke-linecap="butt"/>
<line x1="783.9" y1="466" x2="783.9" y2="645.9" stroke="#000" stroke-width="1.4" stroke-linecap="butt"/>
<line x1="783.9" y1="666.3" x2="783.9" y2="846" stroke="#000" stroke-width="1.4" stroke-linecap="butt"/>
<polygon points="783.90,466.50 782.60,472.00 785.20,472.00" fill="#000"/>
<polygon points="783.90,846.00 782.60,840.50 785.20,840.50" fill="#000"/>
<g transform="translate(768.00,649.90) scale(0.9814,1.0164)" fill="none" stroke="#000" stroke-width="1.8" stroke-linejoin="round" stroke-linecap="butt"><path transform="translate(0.000,0)" d="M3.6,0 H5.1 A2.6,2.7 0 0 1 7.7,2.7 V3.0 A2.6,2.7 0 0 1 5.1,5.7 H3.6 A2.6,2.7 0 0 1 1.0,3.0 V2.7 A2.6,2.7 0 0 1 3.6,0 Z M3.1,5.7 H5.6 A3.1,3.1 0 0 1 8.7,8.8 V9.1 A3.1,3.1 0 0 1 5.6,12.2 H3.1 A3.1,3.1 0 0 1 0,9.1 V8.8 A3.1,3.1 0 0 1 3.1,5.7 Z" vector-effect="non-scaling-stroke"/><path transform="translate(13.200,0)" d="M8.1,0 H0.1 V5.3 C1.2,4.7 2.6,4.5 4,4.5 C6.6,4.5 8.1,6 8.1,8.3 C8.1,10.7 6.5,12.2 4,12.2 C2.2,12.2 0.9,11.6 0,10.5" vector-effect="non-scaling-stroke"/><path transform="translate(25.800,0)" d="M0,3.5 A3.25,3.5 0 0 1 6.5,3.5 V8.7 A3.25,3.5 0 0 1 0,8.7 Z" vector-effect="non-scaling-stroke"/></g>
</svg>
</body></html>
